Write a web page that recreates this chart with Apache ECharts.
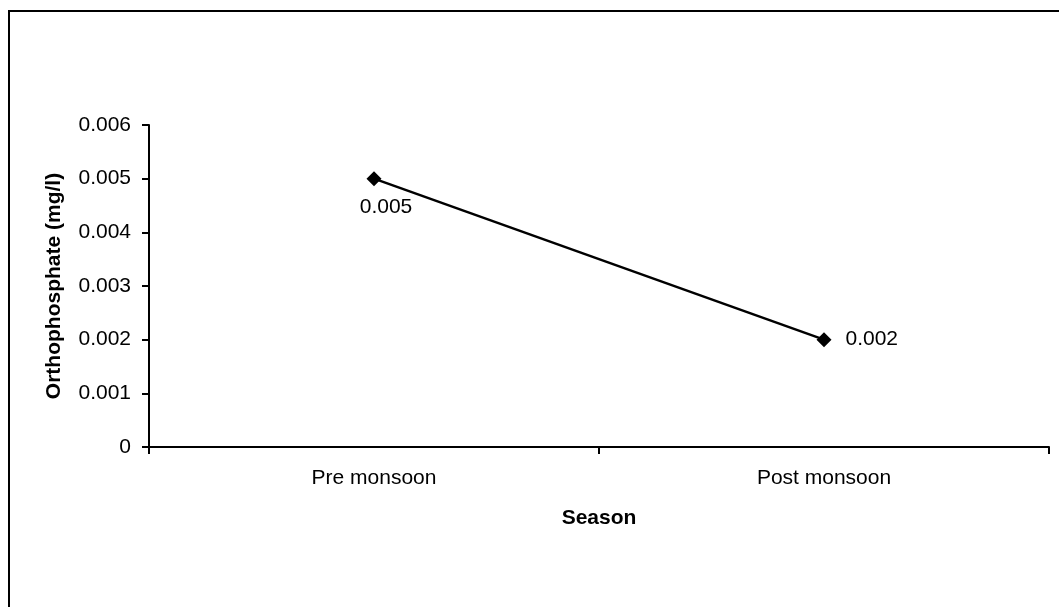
<!DOCTYPE html>
<html>
<head>
<meta charset="utf-8">
<script src="https://cdn.jsdelivr.net/npm/echarts@6/dist/echarts.min.js"></script>
<style>
  html, body { margin: 0; padding: 0; background: #fff; }
  #chart { width: 1059px; height: 607px; }
</style>
</head>
<body>
<div id="chart"></div>
<script>
// Seasonal orthophosphate concentration
const seasons = ['Pre monsoon', 'Post monsoon'];
const orthophosphate = [0.005, 0.002];
const yTicks = [0, 0.001, 0.002, 0.003, 0.004, 0.005, 0.006];

const FONT = '"Liberation Sans", Arial, sans-serif';

const chart = echarts.init(document.getElementById('chart'), null, { renderer: 'canvas' });

chart.setOption({
  backgroundColor: '#fff',
  animation: false,
  graphic: [{
    type: 'rect',
    shape: { x: 9, y: 11, width: 1200, height: 800 },
    style: { fill: 'none', stroke: '#000', lineWidth: 2 },
    silent: true
  }],
  grid: { left: 149, top: 125, right: 10, bottom: 160 },
  xAxis: {
    type: 'category',
    data: seasons,
    boundaryGap: true,
    name: 'Season',
    nameLocation: 'middle',
    nameGap: 61,
    nameTextStyle: { fontFamily: FONT, fontSize: 21, fontWeight: 'bold', color: '#000' },
    axisLine: { lineStyle: { color: '#000', width: 2 } },
    axisTick: { show: true, length: 7, inside: false, alignWithLabel: false, lineStyle: { color: '#000', width: 2 } },
    axisLabel: { fontFamily: FONT, fontSize: 21, color: '#000', margin: 21 },
    splitLine: { show: false }
  },
  yAxis: {
    type: 'value',
    min: 0,
    max: 0.006,
    interval: 0.001,
    name: 'Orthophosphate (mg/l)',
    nameLocation: 'middle',
    nameRotate: 90,
    nameGap: 84,
    nameTextStyle: { fontFamily: FONT, fontSize: 21, fontWeight: 'bold', color: '#000' },
    axisLine: { show: true, lineStyle: { color: '#000', width: 2 } },
    axisTick: { show: true, length: 7, lineStyle: { color: '#000', width: 2 } },
    axisLabel: {
      fontFamily: FONT, fontSize: 21, color: '#000', margin: 18,
      formatter: function (v) {
        const t = yTicks.find(function (k) { return Math.abs(k - v) < 1e-9; });
        return t === 0 ? '0' : (t !== undefined ? t.toFixed(3) : '');
      }
    },
    splitLine: { show: false }
  },
  series: [{
    type: 'line',
    data: orthophosphate.map(function (v, i) {
      return {
        value: v,
        label: i === 0
          ? { position: 'bottom', offset: [12, 6] }
          : { position: 'right', distance: 14 }
      };
    }),
    symbol: 'diamond',
    symbolSize: 15,
    lineStyle: { color: '#000', width: 2.5 },
    itemStyle: { color: '#000' },
    label: {
      show: true,
      fontFamily: FONT,
      fontSize: 21,
      color: '#000',
      formatter: function (p) { return p.value.toFixed(3); }
    }
  }]
});
</script>
</body>
</html>
